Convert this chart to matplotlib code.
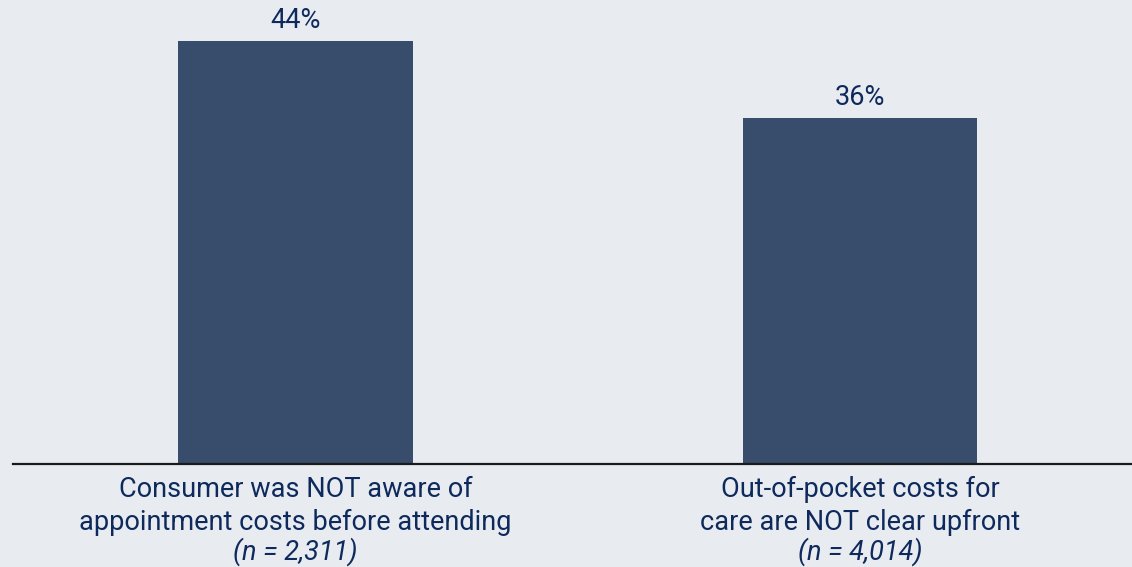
import matplotlib
matplotlib.use("Agg")
import matplotlib.pyplot as plt

categories = [
    "Consumer was NOT aware of\nappointment costs before attending",
    "Out-of-pocket costs for\ncare are NOT clear upfront",
]
sample_sizes = ["(n = 2,311)", "(n = 4,014)"]
values = [44, 36]

BG = "#e8ebf0"
BAR = "#384d6b"
TEXT = "#0e2a5c"

plt.rcParams["font.family"] = ["Roboto", "DejaVu Sans"]

fig = plt.figure(figsize=(11.32, 5.67), dpi=100, facecolor=BG)
ax = fig.add_axes([13 / 1132, 103.5 / 567, 1119 / 1132, 463.5 / 567])
ax.set_facecolor(BG)

x = list(range(len(values)))
bars = ax.bar(x, values, width=0.416, color=BAR, zorder=2)

ax.set_xlim(-0.5004, 1.4818)
ax.set_ylim(0, 48.27)

for spine in ["top", "right", "left"]:
    ax.spines[spine].set_visible(False)
ax.spines["bottom"].set_color("#1a1a1a")
ax.spines["bottom"].set_linewidth(1.6)
ax.spines["bottom"].set_zorder(3)
ax.set_xticks([])
ax.set_yticks([])

for xi, v in zip(x, values):
    ax.annotate(f"{v}%", (xi, v), xytext=(0, 5), textcoords="offset points",
                ha="center", va="bottom", fontsize=19.5, color=TEXT)

for xi, cat, n in zip(x, categories, sample_sizes):
    ax.annotate(cat, (xi, 0), xytext=(0, -9), textcoords="offset points",
                ha="center", va="top", fontsize=19.5, color=TEXT,
                linespacing=1.29, annotation_clip=False)
    ax.annotate(n, (xi, 0), xytext=(0, -53), textcoords="offset points",
                ha="center", va="top", fontsize=19.5, color=TEXT,
                style="italic", annotation_clip=False)

fig.savefig("out.png", dpi=100, facecolor=BG)
